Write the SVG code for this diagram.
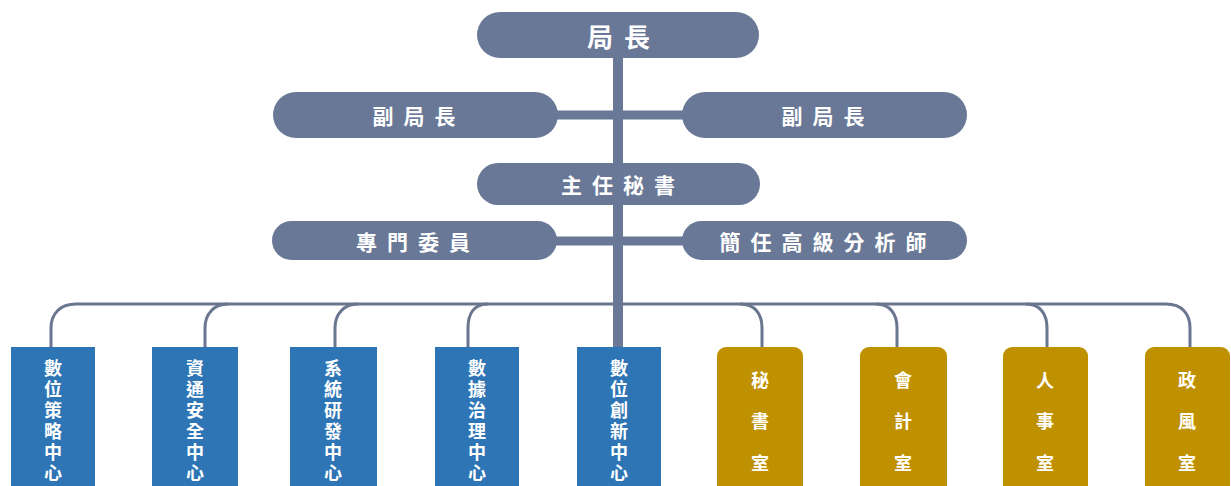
<svg xmlns="http://www.w3.org/2000/svg" width="1231" height="486" viewBox="0 0 1231 486">
<style>
.pill{fill:#697897;}
.blue{fill:#2e75b6;}
.gold{fill:#bf9000;}
.t{fill:#ffffff;font-family:"Noto Sans CJK TC","Noto Sans CJK SC",sans-serif;font-weight:bold;text-anchor:middle;dominant-baseline:central;}
.tm{font-size:21px;letter-spacing:10px;}
.tv{font-size:18px;writing-mode:vertical-rl;text-anchor:start;letter-spacing:3px;}
.tg{font-size:18px;writing-mode:vertical-rl;text-anchor:start;letter-spacing:23.5px;}
.last{letter-spacing:0px;}
.bus{fill:none;stroke:#6a7590;stroke-width:3;}
.thick{fill:none;stroke:#697897;}
</style>
<rect width="1231" height="486" fill="#ffffff"/>
<g id="connectors">
  <line class="thick" x1="618" y1="50" x2="618" y2="350" stroke-width="10"/>
  <line class="thick" x1="550" y1="115" x2="690" y2="115" stroke-width="9"/>
  <line class="thick" x1="550" y1="241" x2="690" y2="241" stroke-width="9"/>
  <path class="bus" d="M76,304 H1166"/>
  <path class="bus" d="M51,348 V328 C51,314 60,304 76,304"/>
  <path class="bus" d="M205,348 V328 C205,314 214,304 228,304"/>
  <path class="bus" d="M335,348 V328 C335,314 344,304 358,304"/>
  <path class="bus" d="M468,348 V328 C468,314 474,304 488,304"/>
  <path class="bus" d="M762,348 V328 C762,314 755,304 740,304"/>
  <path class="bus" d="M897,348 V328 C897,314 890,304 876,304"/>
  <path class="bus" d="M1047,348 V328 C1047,314 1040,304 1026,304"/>
  <path class="bus" d="M1190,348 V328 C1190,314 1182,304 1166,304"/>
</g>
<g id="n-director">
  <rect class="pill" x="477" y="12" width="282" height="46" rx="23"/>
  <text class="t" x="624" y="35" font-size="26" letter-spacing="11">局長</text>
</g>
<g id="n-deputy-left">
  <rect class="pill" x="273" y="92" width="285" height="46" rx="23"/>
  <text class="t tm" x="419" y="115">副局長</text>
</g>
<g id="n-deputy-right">
  <rect class="pill" x="682" y="92" width="285" height="46" rx="23"/>
  <text class="t tm" x="828" y="115">副局長</text>
</g>
<g id="n-secretary-general">
  <rect class="pill" x="477" y="163" width="283" height="42" rx="21"/>
  <text class="t tm" x="623" y="184">主任秘書</text>
</g>
<g id="n-counselor">
  <rect class="pill" x="272" y="221" width="285" height="39" rx="19.5"/>
  <text class="t tm" x="418" y="241">專門委員</text>
</g>
<g id="n-analyst">
  <rect class="pill" x="682" y="221" width="285" height="39" rx="19.5"/>
  <text class="t tm" x="828" y="241">簡任高級分析師</text>
</g>
<g id="n-strategy">
  <rect class="blue" x="11" y="347" width="84" height="145"/>
  <text class="t tv" x="53" y="359">數位策略中<tspan class="last">心</tspan></text>
</g>
<g id="n-security">
  <rect class="blue" x="152" y="347" width="86" height="145"/>
  <text class="t tv" x="195" y="359">資通安全中<tspan class="last">心</tspan></text>
</g>
<g id="n-systems">
  <rect class="blue" x="290" y="347" width="87" height="145"/>
  <text class="t tv" x="333" y="359">系統研發中<tspan class="last">心</tspan></text>
</g>
<g id="n-data">
  <rect class="blue" x="435" y="347" width="84" height="145"/>
  <text class="t tv" x="477" y="359">數據治理中<tspan class="last">心</tspan></text>
</g>
<g id="n-innovation">
  <rect class="blue" x="577" y="347" width="84" height="145"/>
  <text class="t tv" x="619" y="359">數位創新中<tspan class="last">心</tspan></text>
</g>
<g id="n-secretariat">
  <rect class="gold" x="717" y="347" width="86" height="150" rx="9"/>
  <text class="t tg" x="760" y="371">秘書<tspan class="last">室</tspan></text>
</g>
<g id="n-accounting">
  <rect class="gold" x="860" y="347" width="87" height="150" rx="9"/>
  <text class="t tg" x="903" y="371">會計<tspan class="last">室</tspan></text>
</g>
<g id="n-personnel">
  <rect class="gold" x="1003" y="347" width="85" height="150" rx="9"/>
  <text class="t tg" x="1045" y="371">人事<tspan class="last">室</tspan></text>
</g>
<g id="n-ethics">
  <rect class="gold" x="1145" y="347" width="85" height="150" rx="9"/>
  <text class="t tg" x="1187" y="371">政風<tspan class="last">室</tspan></text>
</g>
</svg>
